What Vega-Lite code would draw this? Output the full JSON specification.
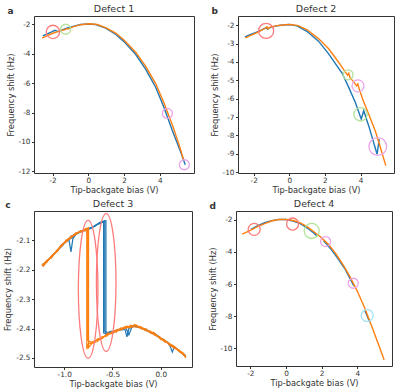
{
"$schema":"https://vega.github.io/schema/vega-lite/v6.json",
"padding":{"left":3,"top":3,"right":0,"bottom":0},
"background":"white",
"config":{
 "font":"DejaVu Sans",
 "view":{"stroke":"#333","strokeWidth":1},
 "axis":{"labelFont":"DejaVu Sans","titleFont":"DejaVu Sans","labelFontSize":7.3,"titleFontSize":8.3,"titleFontWeight":"normal","tickSize":2.5,"tickCount":30,"titlePadding":3,"domain":false,"grid":false,"labelOverlap":false,"labelFlush":false,"tickColor":"#333","labelColor":"#333","titleColor":"#333","labelExpr":"replace(datum.label, '\u2212', '-')"},
 "axisX":{"labelPadding":0.5,"titlePadding":2},
 "axisY":{"labelPadding":1.5},
 "style":{"group-title":{"fontWeight":"normal"}},
 "title":{"font":"DejaVu Sans","fontSize":9.5,"fontWeight":"normal","color":"#333","offset":2.5}
},
"datasets":{
"a_lines":[
{"s":"A","x":-2.55,"y":-2.79},{"s":"A","x":-2.3,"y":-2.65},{"s":"A","x":-2.02,"y":-2.5},{"s":"A","x":-1.87,"y":-2.41},{"s":"A","x":-1.75,"y":-2.47},{"s":"A","x":-1.68,"y":-2.5},{"s":"A","x":-1.46,"y":-2.38},{"s":"A","x":-1.2,"y":-2.27},{"s":"A","x":-0.9,"y":-2.16},{"s":"A","x":-0.43,"y":-2.02},{"s":"A","x":0,"y":-1.98},{"s":"A","x":0.41,"y":-2.02},{"s":"A","x":0.97,"y":-2.27},{"s":"A","x":1.53,"y":-2.68},{"s":"A","x":2.0,"y":-3.18},{"s":"A","x":2.65,"y":-4.04},{"s":"A","x":3.21,"y":-5.05},{"s":"A","x":3.78,"y":-6.3},{"s":"A","x":4.24,"y":-7.66},{"s":"A","x":4.71,"y":-9.24},{"s":"A","x":5.18,"y":-10.7},{"s":"A","x":5.43,"y":-11.55},
{"s":"B","x":-2.58,"y":-2.95},{"s":"B","x":-2.3,"y":-2.78},{"s":"B","x":-2.02,"y":-2.63},{"s":"B","x":-1.7,"y":-2.5},{"s":"B","x":-1.46,"y":-2.41},{"s":"B","x":-1.3,"y":-2.37},{"s":"B","x":-1.22,"y":-2.3},{"s":"B","x":-1.12,"y":-2.33},{"s":"B","x":-0.9,"y":-2.2},{"s":"B","x":-0.43,"y":-2.03},{"s":"B","x":0.05,"y":-1.97},{"s":"B","x":0.5,"y":-2.02},{"s":"B","x":1.0,"y":-2.24},{"s":"B","x":1.53,"y":-2.6},{"s":"B","x":2.0,"y":-3.07},{"s":"B","x":2.65,"y":-3.9},{"s":"B","x":3.21,"y":-4.85},{"s":"B","x":3.78,"y":-6.05},{"s":"B","x":4.24,"y":-7.35},{"s":"B","x":4.71,"y":-8.85},{"s":"B","x":5.1,"y":-10.25},{"s":"B","x":5.34,"y":-11.23}
],
"a_rings":[{"k":"1","ring":"l","x":-1.98,"y":-2.52},{"k":"2","ring":"s","x":-1.27,"y":-2.34},{"k":"3","ring":"s","x":4.43,"y":-8.06},{"k":"3","ring":"s","x":5.38,"y":-11.55}],
"b_lines":[
{"s":"A","x":-2.49,"y":-2.64},{"s":"A","x":-2.2,"y":-2.52},{"s":"A","x":-1.9,"y":-2.4},{"s":"A","x":-1.6,"y":-2.28},{"s":"A","x":-1.38,"y":-2.18},{"s":"A","x":-1.3,"y":-2.12},{"s":"A","x":-1.22,"y":-2.22},{"s":"A","x":-1.12,"y":-2.14},{"s":"A","x":-0.78,"y":-2.05},{"s":"A","x":-0.4,"y":-1.99},{"s":"A","x":0,"y":-1.96},{"s":"A","x":0.43,"y":-2.04},{"s":"A","x":0.99,"y":-2.33},{"s":"A","x":1.64,"y":-2.87},{"s":"A","x":2.2,"y":-3.55},{"s":"A","x":2.96,"y":-4.6},{"s":"A","x":3.3,"y":-5.3},{"s":"A","x":3.71,"y":-6.2},{"s":"A","x":4.04,"y":-7.1},{"s":"A","x":4.18,"y":-6.65},{"s":"A","x":4.5,"y":-7.6},{"s":"A","x":4.93,"y":-9.02},{"s":"A","x":5.05,"y":-8.2},
{"s":"B","x":-2.46,"y":-2.69},{"s":"B","x":-2.2,"y":-2.57},{"s":"B","x":-1.9,"y":-2.45},{"s":"B","x":-1.6,"y":-2.3},{"s":"B","x":-1.38,"y":-2.18},{"s":"B","x":-1.25,"y":-2.09},{"s":"B","x":-1.2,"y":-2.2},{"s":"B","x":-1.1,"y":-2.12},{"s":"B","x":-0.78,"y":-2.04},{"s":"B","x":-0.4,"y":-1.99},{"s":"B","x":0.05,"y":-1.96},{"s":"B","x":0.5,"y":-2.02},{"s":"B","x":1.0,"y":-2.25},{"s":"B","x":1.64,"y":-2.73},{"s":"B","x":2.2,"y":-3.27},{"s":"B","x":2.76,"y":-4.0},{"s":"B","x":3.15,"y":-4.55},{"s":"B","x":3.28,"y":-4.72},{"s":"B","x":3.34,"y":-4.62},{"s":"B","x":3.42,"y":-4.88},{"s":"B","x":3.55,"y":-5.0},{"s":"B","x":3.78,"y":-5.3},{"s":"B","x":3.85,"y":-5.2},{"s":"B","x":3.92,"y":-5.45},{"s":"B","x":4.15,"y":-6.1},{"s":"B","x":4.46,"y":-6.84},{"s":"B","x":4.83,"y":-7.75},{"s":"B","x":5.1,"y":-8.6},{"s":"B","x":5.42,"y":-9.64}
],
"b_rings":[{"k":"1","ring":"xl","x":-1.3,"y":-2.31},{"k":"2","ring":"s","x":3.3,"y":-4.7},{"k":"3","ring":"m","x":3.86,"y":-5.3},{"k":"2","ring":"l","x":4.0,"y":-6.85},{"k":"3","ring":"xxl","x":4.97,"y":-8.6}],
"c_lines":[
{"s":"A","t":1,"i":0,"x":-1.23,"y":-2.184},{"s":"A","t":1,"i":1,"x":-1.18,"y":-2.174},{"s":"A","t":1,"i":2,"x":-1.13,"y":-2.155},{"s":"A","t":1,"i":3,"x":-1.08,"y":-2.14},{"s":"A","t":1,"i":4,"x":-1.03,"y":-2.117},{"s":"A","t":1,"i":5,"x":-0.98,"y":-2.106},{"s":"A","t":1,"i":6,"x":-0.95,"y":-2.1},{"s":"A","t":1,"i":7,"x":-0.93,"y":-2.14},{"s":"A","t":1,"i":8,"x":-0.91,"y":-2.095},{"s":"A","t":1,"i":9,"x":-0.88,"y":-2.081},{"s":"A","t":1,"i":10,"x":-0.83,"y":-2.07},{"s":"A","t":1,"i":11,"x":-0.78,"y":-2.067},{"s":"A","t":1,"i":12,"x":-0.73,"y":-2.058},{"s":"A","t":1,"i":13,"x":-0.68,"y":-2.053},{"s":"A","t":1,"i":14,"x":-0.63,"y":-2.04},{"s":"A","t":1,"i":15,"x":-0.592,"y":-2.038},{"s":"A","t":1,"i":16,"x":-0.592,"y":-2.415},{"s":"A","t":1,"i":17,"x":-0.57,"y":-2.418},{"s":"A","t":1,"i":18,"x":-0.52,"y":-2.41},{"s":"A","t":1,"i":19,"x":-0.47,"y":-2.41},{"s":"A","t":1,"i":20,"x":-0.42,"y":-2.402},{"s":"A","t":1,"i":21,"x":-0.37,"y":-2.404},{"s":"A","t":1,"i":22,"x":-0.35,"y":-2.428},{"s":"A","t":1,"i":23,"x":-0.33,"y":-2.4},{"s":"A","t":1,"i":24,"x":-0.28,"y":-2.392},{"s":"A","t":1,"i":25,"x":-0.23,"y":-2.396},{"s":"A","t":1,"i":26,"x":-0.18,"y":-2.4},{"s":"A","t":1,"i":27,"x":-0.13,"y":-2.41},{"s":"A","t":1,"i":28,"x":-0.08,"y":-2.416},{"s":"A","t":1,"i":29,"x":-0.03,"y":-2.428},{"s":"A","t":1,"i":30,"x":0.02,"y":-2.436},{"s":"A","t":1,"i":31,"x":0.07,"y":-2.448},{"s":"A","t":1,"i":32,"x":0.1,"y":-2.462},{"s":"A","t":1,"i":33,"x":0.12,"y":-2.48},{"s":"A","t":1,"i":34,"x":0.14,"y":-2.462},{"s":"A","t":1,"i":35,"x":0.19,"y":-2.475},{"s":"A","t":1,"i":36,"x":0.24,"y":-2.487},{"s":"A","t":1,"i":37,"x":0.26,"y":-2.495},
{"s":"A","t":2,"i":0,"x":-1.22,"y":-2.188},{"s":"A","t":2,"i":1,"x":-1.17,"y":-2.168},{"s":"A","t":2,"i":2,"x":-1.12,"y":-2.152},{"s":"A","t":2,"i":3,"x":-1.07,"y":-2.136},{"s":"A","t":2,"i":4,"x":-1.02,"y":-2.12},{"s":"A","t":2,"i":5,"x":-0.97,"y":-2.101},{"s":"A","t":2,"i":6,"x":-0.92,"y":-2.092},{"s":"A","t":2,"i":7,"x":-0.87,"y":-2.078},{"s":"A","t":2,"i":8,"x":-0.82,"y":-2.072},{"s":"A","t":2,"i":9,"x":-0.77,"y":-2.062},{"s":"A","t":2,"i":10,"x":-0.72,"y":-2.06},{"s":"A","t":2,"i":11,"x":-0.67,"y":-2.049},{"s":"A","t":2,"i":12,"x":-0.62,"y":-2.043},{"s":"A","t":2,"i":13,"x":-0.58,"y":-2.035},{"s":"A","t":2,"i":14,"x":-0.58,"y":-2.41},{"s":"A","t":2,"i":15,"x":-0.55,"y":-2.413},{"s":"A","t":2,"i":16,"x":-0.5,"y":-2.415},{"s":"A","t":2,"i":17,"x":-0.45,"y":-2.405},{"s":"A","t":2,"i":18,"x":-0.4,"y":-2.405},{"s":"A","t":2,"i":19,"x":-0.36,"y":-2.398},{"s":"A","t":2,"i":20,"x":-0.33,"y":-2.422},{"s":"A","t":2,"i":21,"x":-0.3,"y":-2.396},{"s":"A","t":2,"i":22,"x":-0.25,"y":-2.39},{"s":"A","t":2,"i":23,"x":-0.2,"y":-2.399},{"s":"A","t":2,"i":24,"x":-0.15,"y":-2.403},{"s":"A","t":2,"i":25,"x":-0.1,"y":-2.415},{"s":"A","t":2,"i":26,"x":-0.05,"y":-2.42},{"s":"A","t":2,"i":27,"x":0.0,"y":-2.434},{"s":"A","t":2,"i":28,"x":0.05,"y":-2.442},{"s":"A","t":2,"i":29,"x":0.1,"y":-2.456},{"s":"A","t":2,"i":30,"x":0.15,"y":-2.465},{"s":"A","t":2,"i":31,"x":0.2,"y":-2.48},{"s":"A","t":2,"i":32,"x":0.26,"y":-2.492},
{"s":"A","t":3,"i":0,"x":-1.23,"y":-2.185},{"s":"A","t":3,"i":1,"x":-1.13,"y":-2.158},{"s":"A","t":3,"i":2,"x":-1.03,"y":-2.118},{"s":"A","t":3,"i":3,"x":-0.93,"y":-2.088},{"s":"A","t":3,"i":4,"x":-0.83,"y":-2.069},{"s":"A","t":3,"i":5,"x":-0.73,"y":-2.061},{"s":"A","t":3,"i":6,"x":-0.66,"y":-2.046},{"s":"A","t":3,"i":7,"x":-0.6,"y":-2.036},{"s":"A","t":3,"i":8,"x":-0.568,"y":-2.034},{"s":"A","t":3,"i":9,"x":-0.568,"y":-2.42},{"s":"A","t":3,"i":10,"x":-0.53,"y":-2.414},{"s":"A","t":3,"i":11,"x":-0.48,"y":-2.409},{"s":"A","t":3,"i":12,"x":-0.43,"y":-2.403},{"s":"A","t":3,"i":13,"x":-0.38,"y":-2.399},{"s":"A","t":3,"i":14,"x":-0.33,"y":-2.395},{"s":"A","t":3,"i":15,"x":-0.28,"y":-2.39},{"s":"A","t":3,"i":16,"x":-0.23,"y":-2.394},{"s":"A","t":3,"i":17,"x":-0.18,"y":-2.402},{"s":"A","t":3,"i":18,"x":-0.13,"y":-2.408},{"s":"A","t":3,"i":19,"x":-0.08,"y":-2.418},{"s":"A","t":3,"i":20,"x":-0.03,"y":-2.425},{"s":"A","t":3,"i":21,"x":0.02,"y":-2.438},{"s":"A","t":3,"i":22,"x":0.07,"y":-2.447},{"s":"A","t":3,"i":23,"x":0.12,"y":-2.46},{"s":"A","t":3,"i":24,"x":0.17,"y":-2.47},{"s":"A","t":3,"i":25,"x":0.22,"y":-2.483},{"s":"A","t":3,"i":26,"x":0.26,"y":-2.498},
{"s":"B","t":4,"i":0,"x":-1.23,"y":-2.188},{"s":"B","t":4,"i":1,"x":-1.18,"y":-2.168},{"s":"B","t":4,"i":2,"x":-1.13,"y":-2.16},{"s":"B","t":4,"i":3,"x":-1.08,"y":-2.135},{"s":"B","t":4,"i":4,"x":-1.03,"y":-2.122},{"s":"B","t":4,"i":5,"x":-0.98,"y":-2.1},{"s":"B","t":4,"i":6,"x":-0.93,"y":-2.092},{"s":"B","t":4,"i":7,"x":-0.88,"y":-2.075},{"s":"B","t":4,"i":8,"x":-0.83,"y":-2.073},{"s":"B","t":4,"i":9,"x":-0.78,"y":-2.062},{"s":"B","t":4,"i":10,"x":-0.766,"y":-2.06},{"s":"B","t":4,"i":11,"x":-0.766,"y":-2.47},{"s":"B","t":4,"i":12,"x":-0.75,"y":-2.452},{"s":"B","t":4,"i":13,"x":-0.7,"y":-2.449},{"s":"B","t":4,"i":14,"x":-0.65,"y":-2.434},{"s":"B","t":4,"i":15,"x":-0.6,"y":-2.433},{"s":"B","t":4,"i":16,"x":-0.55,"y":-2.416},{"s":"B","t":4,"i":17,"x":-0.5,"y":-2.417},{"s":"B","t":4,"i":18,"x":-0.45,"y":-2.403},{"s":"B","t":4,"i":19,"x":-0.4,"y":-2.404},{"s":"B","t":4,"i":20,"x":-0.35,"y":-2.392},{"s":"B","t":4,"i":21,"x":-0.3,"y":-2.396},{"s":"B","t":4,"i":22,"x":-0.25,"y":-2.389},{"s":"B","t":4,"i":23,"x":-0.2,"y":-2.401},{"s":"B","t":4,"i":24,"x":-0.15,"y":-2.402},{"s":"B","t":4,"i":25,"x":-0.1,"y":-2.417},{"s":"B","t":4,"i":26,"x":-0.05,"y":-2.42},{"s":"B","t":4,"i":27,"x":0.0,"y":-2.437},{"s":"B","t":4,"i":28,"x":0.05,"y":-2.441},{"s":"B","t":4,"i":29,"x":0.1,"y":-2.459},{"s":"B","t":4,"i":30,"x":0.15,"y":-2.463},{"s":"B","t":4,"i":31,"x":0.2,"y":-2.481},{"s":"B","t":4,"i":32,"x":0.26,"y":-2.493},
{"s":"B","t":5,"i":0,"x":-1.23,"y":-2.183},{"s":"B","t":5,"i":1,"x":-1.18,"y":-2.175},{"s":"B","t":5,"i":2,"x":-1.13,"y":-2.153},{"s":"B","t":5,"i":3,"x":-1.08,"y":-2.141},{"s":"B","t":5,"i":4,"x":-1.03,"y":-2.116},{"s":"B","t":5,"i":5,"x":-0.98,"y":-2.107},{"s":"B","t":5,"i":6,"x":-0.93,"y":-2.086},{"s":"B","t":5,"i":7,"x":-0.88,"y":-2.082},{"s":"B","t":5,"i":8,"x":-0.83,"y":-2.068},{"s":"B","t":5,"i":9,"x":-0.78,"y":-2.069},{"s":"B","t":5,"i":10,"x":-0.757,"y":-2.066},{"s":"B","t":5,"i":11,"x":-0.757,"y":-2.44},{"s":"B","t":5,"i":12,"x":-0.72,"y":-2.447},{"s":"B","t":5,"i":13,"x":-0.67,"y":-2.44},{"s":"B","t":5,"i":14,"x":-0.62,"y":-2.436},{"s":"B","t":5,"i":15,"x":-0.57,"y":-2.423},{"s":"B","t":5,"i":16,"x":-0.52,"y":-2.418},{"s":"B","t":5,"i":17,"x":-0.47,"y":-2.406},{"s":"B","t":5,"i":18,"x":-0.42,"y":-2.405},{"s":"B","t":5,"i":19,"x":-0.37,"y":-2.394},{"s":"B","t":5,"i":20,"x":-0.32,"y":-2.398},{"s":"B","t":5,"i":21,"x":-0.27,"y":-2.386},{"s":"B","t":5,"i":22,"x":-0.22,"y":-2.397},{"s":"B","t":5,"i":23,"x":-0.17,"y":-2.4},{"s":"B","t":5,"i":24,"x":-0.12,"y":-2.411},{"s":"B","t":5,"i":25,"x":-0.07,"y":-2.414},{"s":"B","t":5,"i":26,"x":-0.02,"y":-2.43},{"s":"B","t":5,"i":27,"x":0.03,"y":-2.437},{"s":"B","t":5,"i":28,"x":0.08,"y":-2.452},{"s":"B","t":5,"i":29,"x":0.13,"y":-2.458},{"s":"B","t":5,"i":30,"x":0.18,"y":-2.475},{"s":"B","t":5,"i":31,"x":0.23,"y":-2.482},{"s":"B","t":5,"i":32,"x":0.26,"y":-2.497},
{"s":"B","t":6,"i":0,"x":-1.22,"y":-2.19},{"s":"B","t":6,"i":1,"x":-1.17,"y":-2.17},{"s":"B","t":6,"i":2,"x":-1.12,"y":-2.15},{"s":"B","t":6,"i":3,"x":-1.07,"y":-2.138},{"s":"B","t":6,"i":4,"x":-1.02,"y":-2.114},{"s":"B","t":6,"i":5,"x":-0.97,"y":-2.103},{"s":"B","t":6,"i":6,"x":-0.92,"y":-2.09},{"s":"B","t":6,"i":7,"x":-0.87,"y":-2.076},{"s":"B","t":6,"i":8,"x":-0.82,"y":-2.07},{"s":"B","t":6,"i":9,"x":-0.77,"y":-2.063},{"s":"B","t":6,"i":10,"x":-0.748,"y":-2.058},{"s":"B","t":6,"i":11,"x":-0.748,"y":-2.465},{"s":"B","t":6,"i":12,"x":-0.71,"y":-2.45},{"s":"B","t":6,"i":13,"x":-0.66,"y":-2.445},{"s":"B","t":6,"i":14,"x":-0.61,"y":-2.428},{"s":"B","t":6,"i":15,"x":-0.56,"y":-2.426},{"s":"B","t":6,"i":16,"x":-0.51,"y":-2.411},{"s":"B","t":6,"i":17,"x":-0.46,"y":-2.412},{"s":"B","t":6,"i":18,"x":-0.41,"y":-2.398},{"s":"B","t":6,"i":19,"x":-0.36,"y":-2.4},{"s":"B","t":6,"i":20,"x":-0.31,"y":-2.389},{"s":"B","t":6,"i":21,"x":-0.26,"y":-2.395},{"s":"B","t":6,"i":22,"x":-0.21,"y":-2.393},{"s":"B","t":6,"i":23,"x":-0.16,"y":-2.407},{"s":"B","t":6,"i":24,"x":-0.11,"y":-2.408},{"s":"B","t":6,"i":25,"x":-0.06,"y":-2.424},{"s":"B","t":6,"i":26,"x":-0.01,"y":-2.428},{"s":"B","t":6,"i":27,"x":0.04,"y":-2.446},{"s":"B","t":6,"i":28,"x":0.09,"y":-2.45},{"s":"B","t":6,"i":29,"x":0.14,"y":-2.468},{"s":"B","t":6,"i":30,"x":0.19,"y":-2.472},{"s":"B","t":6,"i":31,"x":0.24,"y":-2.49},{"s":"B","t":6,"i":32,"x":0.26,"y":-2.5}
],
"c_rings":[{"x":-0.752,"y":-2.267},{"x":-0.565,"y":-2.244}],
"d_lines":[
{"s":"A","t":1,"x":-1.96,"y":-2.6},{"s":"A","t":1,"x":-1.6,"y":-2.38},{"s":"A","t":1,"x":-1.2,"y":-2.19},{"s":"A","t":1,"x":-0.8,"y":-2.06},{"s":"A","t":1,"x":-0.4,"y":-1.98},{"s":"A","t":1,"x":0,"y":-1.99},{"s":"A","t":1,"x":0.4,"y":-2.08},{"s":"A","t":1,"x":0.8,"y":-2.25},{"s":"A","t":1,"x":1.2,"y":-2.52},{"s":"A","t":1,"x":1.5,"y":-2.77},{"s":"A","t":1,"x":1.72,"y":-2.99},
{"s":"A","t":2,"x":2.1,"y":-3.3},{"s":"A","t":2,"x":2.5,"y":-3.8},{"s":"A","t":2,"x":2.9,"y":-4.4},{"s":"A","t":2,"x":3.3,"y":-5.05},{"s":"A","t":2,"x":3.6,"y":-5.68},{"s":"A","t":2,"x":3.8,"y":-6.12},
{"s":"A","t":3,"x":4.4,"y":-7.6},{"s":"A","t":3,"x":4.55,"y":-7.98},{"s":"A","t":3,"x":4.7,"y":-8.38},
{"s":"B","t":4,"x":-2.45,"y":-2.9},{"s":"B","t":4,"x":-2.0,"y":-2.67},{"s":"B","t":4,"x":-1.6,"y":-2.43},{"s":"B","t":4,"x":-1.2,"y":-2.24},{"s":"B","t":4,"x":-0.8,"y":-2.08},{"s":"B","t":4,"x":-0.4,"y":-1.99},{"s":"B","t":4,"x":0,"y":-1.98},{"s":"B","t":4,"x":0.4,"y":-2.05},{"s":"B","t":4,"x":0.8,"y":-2.2},{"s":"B","t":4,"x":1.2,"y":-2.45},{"s":"B","t":4,"x":1.6,"y":-2.78},{"s":"B","t":4,"x":2.0,"y":-3.13},{"s":"B","t":4,"x":2.4,"y":-3.56},{"s":"B","t":4,"x":2.8,"y":-4.12},{"s":"B","t":4,"x":3.2,"y":-4.8},{"s":"B","t":4,"x":3.6,"y":-5.57},{"s":"B","t":4,"x":4.0,"y":-6.45},{"s":"B","t":4,"x":4.4,"y":-7.45},{"s":"B","t":4,"x":4.8,"y":-8.6},{"s":"B","t":4,"x":5.2,"y":-9.8},{"s":"B","t":4,"x":5.5,"y":-10.7}
],
"d_rings":[{"k":"1","ring":"m","x":-1.78,"y":-2.6},{"k":"1","ring":"m","x":0.37,"y":-2.27},{"k":"2","ring":"xl","x":1.44,"y":-2.7},{"k":"3","ring":"s","x":2.22,"y":-3.36},{"k":"3","ring":"s","x":3.77,"y":-5.95},{"k":"4","ring":"m","x":4.55,"y":-7.95}]
},
"spacing":3,
"vconcat":[
{"spacing":14,"hconcat":[
 {"title":{"text":"a","anchor":"start","fontWeight":"bold","fontSize":9,"offset":-12,"dx":2},
  "vconcat":[{"title":{"text":"Defect 1","anchor":"middle","fontWeight":"normal"},"width":160,"height":157,
   "layer":[
    {"data":{"name":"a_lines"},"mark":{"type":"line","strokeWidth":1.4,"clip":true},
     "encoding":{"x":{"field":"x","type":"quantitative","scale":{"domain":[-3.04,5.92],"nice":false,"zero":false},"axis":{"values":[-2,0,2,4],"format":"d","tickCount":30,"title":"Tip-backgate bias (V)"}},
      "y":{"field":"y","type":"quantitative","scale":{"domain":[-12.11,-1.44],"nice":false,"zero":false},"axis":{"values":[-12,-10,-8,-6,-4,-2],"format":"d","tickCount":30,"title":"Frequency shift (Hz)"}},
      "color":{"field":"s","type":"nominal","scale":{"domain":["A","B"],"range":["#1f77b4","#ff7f0e"]},"legend":null}}},
    {"data":{"name":"a_rings"},"mark":{"type":"point","shape":"circle","filled":false,"strokeWidth":1.3,"opacity":1},
     "encoding":{"x":{"field":"x","type":"quantitative"},"y":{"field":"y","type":"quantitative"},
      "stroke":{"field":"k","type":"nominal","scale":{"domain":["1","2","3","4"],"range":["#ff7b7b","#b3e39a","#eaa5ea","#a6e3f7"]},"legend":null},
      "size":{"field":"ring","type":"ordinal","scale":{"type":"ordinal","domain":["s","m","l","xl","xxl"],"range":[100,145,177,227,314]},"legend":null}}}
   ]}]},
 {"title":{"text":"b","anchor":"start","fontWeight":"bold","fontSize":9,"offset":-12,"dx":2},
  "vconcat":[{"title":{"text":"Defect 2","anchor":"middle","fontWeight":"normal"},"width":156,"height":157,
   "layer":[
    {"data":{"name":"b_lines"},"mark":{"type":"line","strokeWidth":1.4,"clip":true},
     "encoding":{"x":{"field":"x","type":"quantitative","scale":{"domain":[-2.88,5.88],"nice":false,"zero":false},"axis":{"values":[-2,0,2,4],"format":"d","tickCount":30,"title":"Tip-backgate bias (V)"}},
      "y":{"field":"y","type":"quantitative","scale":{"domain":[-10.04,-1.5],"nice":false,"zero":false},"axis":{"values":[-10,-9,-8,-7,-6,-5,-4,-3,-2],"format":"d","tickCount":30,"title":"Frequency shift (Hz)"}},
      "color":{"field":"s","type":"nominal","scale":{"domain":["A","B"],"range":["#1f77b4","#ff7f0e"]},"legend":null}}},
    {"data":{"name":"b_rings"},"mark":{"type":"point","shape":"circle","filled":false,"strokeWidth":1.3,"opacity":1},
     "encoding":{"x":{"field":"x","type":"quantitative"},"y":{"field":"y","type":"quantitative"},
      "stroke":{"field":"k","type":"nominal","scale":{"domain":["1","2","3","4"],"range":["#ff7b7b","#b3e39a","#eaa5ea","#a6e3f7"]},"legend":null},
      "size":{"field":"ring","type":"ordinal","scale":{"type":"ordinal","domain":["s","m","l","xl","xxl"],"range":[100,145,177,227,314]},"legend":null}}}
   ]}]}
]},
{"spacing":14,"hconcat":[
 {"title":{"text":"c","anchor":"start","fontWeight":"bold","fontSize":9,"offset":-12,"dx":2},
  "vconcat":[{"title":{"text":"Defect 3","anchor":"middle","fontWeight":"normal"},"width":158,"height":156,
   "layer":[
    {"data":{"name":"c_lines"},"mark":{"type":"line","strokeWidth":1.2,"clip":true},
     "encoding":{"x":{"field":"x","type":"quantitative","scale":{"domain":[-1.313,0.324],"nice":false,"zero":false},"axis":{"values":[-1.0,-0.5,0.0],"format":".1f","tickCount":30,"title":"Tip-backgate bias (V)"}},
      "y":{"field":"y","type":"quantitative","scale":{"domain":[-2.5306,-2.0014],"nice":false,"zero":false},"axis":{"values":[-2.5,-2.4,-2.3,-2.2,-2.1],"format":".1f","tickCount":30,"title":"Frequency shift (Hz)"}},
      "color":{"field":"s","type":"nominal","scale":{"domain":["A","B"],"range":["#1f77b4","#ff7f0e"]},"legend":null},
      "detail":{"field":"t","type":"nominal"},
      "order":{"field":"i","type":"quantitative"}}},
    {"data":{"name":"c_rings"},"mark":{"type":"point","shape":"M0,-1C0.0784,-1 0.142,-0.5523 0.142,0C0.142,0.5523 0.0784,1 0,1C-0.0784,1 -0.142,0.5523 -0.142,0C-0.142,-0.5523 -0.0784,-1 0,-1Z","filled":false,"strokeWidth":1.3,"stroke":"#ff7b7b","opacity":1,"size":19000},
     "encoding":{"x":{"field":"x","type":"quantitative"},"y":{"field":"y","type":"quantitative"}}}
   ]}]},
 {"title":{"text":"d","anchor":"start","fontWeight":"bold","fontSize":9,"offset":-12,"dx":2},
  "vconcat":[{"title":{"text":"Defect 4","anchor":"middle","fontWeight":"normal"},"width":156,"height":155,
   "layer":[
    {"data":{"name":"d_lines"},"mark":{"type":"line","strokeWidth":1.4,"clip":true},
     "encoding":{"x":{"field":"x","type":"quantitative","scale":{"domain":[-2.8,5.94],"nice":false,"zero":false},"axis":{"values":[-2,0,2,4],"format":"d","tickCount":30,"title":"Tip-backgate bias (V)"}},
      "y":{"field":"y","type":"quantitative","scale":{"domain":[-11.09,-1.46],"nice":false,"zero":false},"axis":{"values":[-10,-8,-6,-4,-2],"format":"d","tickCount":30,"title":"Frequency shift (Hz)"}},
      "color":{"field":"s","type":"nominal","scale":{"domain":["A","B"],"range":["#1f77b4","#ff7f0e"]},"legend":null},
      "detail":{"field":"t","type":"nominal"}}},
    {"data":{"name":"d_rings"},"mark":{"type":"point","shape":"circle","filled":false,"strokeWidth":1.3,"opacity":1},
     "encoding":{"x":{"field":"x","type":"quantitative"},"y":{"field":"y","type":"quantitative"},
      "stroke":{"field":"k","type":"nominal","scale":{"domain":["1","2","3","4"],"range":["#ff7b7b","#b3e39a","#eaa5ea","#a6e3f7"]},"legend":null},
      "size":{"field":"ring","type":"ordinal","scale":{"type":"ordinal","domain":["s","m","l","xl","xxl"],"range":[100,145,177,227,314]},"legend":null}}}
   ]}]}
]}
]
}
